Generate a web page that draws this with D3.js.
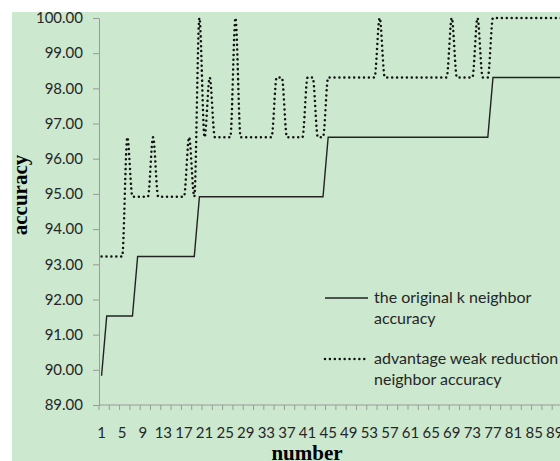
<!DOCTYPE html>
<html><head><meta charset="utf-8">
<script src="https://cdn.jsdelivr.net/npm/d3@7"></script>
<style>
html,body{margin:0;padding:0;background:#fff;}
svg{display:block;}
</style></head>
<body>
<script>
// ---- data ----
const categories = d3.range(1, 93); // 1..92 (visible part)
const originalAcc = [
  89.83,
  91.53,91.53,91.53,91.53,91.53,91.53,
  93.22,93.22,93.22,93.22,93.22,93.22,93.22,93.22,93.22,93.22,93.22,93.22,
  94.92,94.92,94.92,94.92,94.92,94.92,94.92,94.92,94.92,94.92,94.92,94.92,94.92,94.92,94.92,94.92,94.92,94.92,94.92,94.92,94.92,94.92,94.92,94.92,94.92,
  96.61,96.61,96.61,96.61,96.61,96.61,96.61,96.61,96.61,96.61,96.61,96.61,96.61,96.61,96.61,96.61,96.61,96.61,96.61,96.61,96.61,96.61,96.61,96.61,96.61,96.61,96.61,96.61,96.61,96.61,96.61,96.61,
  98.31,98.31,98.31,98.31,98.31,98.31,98.31,98.31,98.31,98.31,98.31,98.31,98.31,98.31,98.31,98.31
];
const advantageAcc = [
  93.22,93.22,93.22,93.22,93.22,
  96.61,
  94.92,94.92,94.92,94.92,
  96.61,
  94.92,94.92,94.92,94.92,94.92,94.92,
  96.61,
  94.92,
  100.00,
  96.61,
  98.31,
  96.61,96.61,96.61,96.61,
  100.00,
  96.61,96.61,96.61,96.61,96.61,96.61,96.61,
  98.31,98.31,
  96.61,96.61,96.61,96.61,
  98.31,98.31,
  96.61,96.61,
  98.31,98.31,98.31,98.31,98.31,98.31,98.31,98.31,98.31,98.31,
  100.00,
  98.31,98.31,98.31,98.31,98.31,98.31,98.31,98.31,98.31,98.31,98.31,98.31,98.31,
  100.00,
  98.31,98.31,98.31,98.31,
  100.00,
  98.31,98.31,
  100.00,100.00,100.00,100.00,100.00,100.00,100.00,100.00,100.00,100.00,100.00,100.00,100.00,100.00,100.00,100.00
];
const yTicks = [89,90,91,92,93,94,95,96,97,98,99,100];
const xLabelCats = d3.range(1, 90, 4);
const legendLines = [["the original k neighbor", "accuracy"], ["advantage weak reduction", "neighbor accuracy"]];
const axisTitles = { x: "number", y: "accuracy" };

// ---- layout ----
const W = 560, H = 461;
const nCats = 100;
const plotLeft = 99, catW = 5.15;
const plotTop = 18, plotBottom = 405;

const svg = d3.select("body").append("svg").attr("width", W).attr("height", H);
svg.append("rect").attr("x", 12).attr("y", 12).attr("width", W - 12).attr("height", H - 12).attr("fill", "#cce8cf");

const x = d3.scaleBand().domain(d3.range(1, nCats + 1)).range([plotLeft, plotLeft + nCats * catW]).padding(0);
const xc = c => x(c) + x.bandwidth() / 2;
const y = d3.scaleLinear().domain([89, 100]).range([plotBottom, plotTop]);

const font = "Lato, 'Open Sans', sans-serif";
const fs = "15px";
const axisColor = "#9a9a9a";
const textColor = "#262626";

// y axis
const yAxis = d3.axisLeft(y).tickValues(yTicks).tickSize(6).tickSizeOuter(0).tickPadding(10)
  .tickFormat(d3.format(".2f"));
const gy = svg.append("g").attr("transform", `translate(${plotLeft},0)`).call(yAxis);
gy.select(".domain").attr("stroke", axisColor).attr("stroke-width", 1);
gy.selectAll(".tick line").attr("stroke", axisColor);
gy.selectAll(".tick text").attr("fill", textColor).style("font-family", font).style("font-size", fs);

// x axis
const gx = svg.append("g");
gx.append("line").attr("x1", plotLeft).attr("x2", plotLeft + nCats * catW)
  .attr("y1", plotBottom).attr("y2", plotBottom).attr("stroke", axisColor);
const tickCats = d3.range(1, nCats + 1, 2);
gx.selectAll("line.t").data(tickCats).join("line").attr("class", "t")
  .attr("x1", c => x(c)).attr("x2", c => x(c))
  .attr("y1", plotBottom).attr("y2", plotBottom + 5).attr("stroke", axisColor);
gx.selectAll("text").data(xLabelCats).join("text")
  .attr("x", c => xc(c)).attr("y", 438).attr("text-anchor", "middle")
  .attr("fill", textColor).style("font-family", font).style("font-size", fs)
  .text(c => c);

// axis titles
svg.append("text").attr("transform", "translate(27,195) rotate(-90)").attr("text-anchor", "middle")
  .style("font-family", "'Liberation Serif','Times New Roman',serif").style("font-weight", "bold").style("font-size", "21px")
  .attr("fill", "#000").text(axisTitles.y);
svg.append("text").attr("x", 307).attr("y", 460).attr("text-anchor", "middle")
  .style("font-family", "'Liberation Serif','Times New Roman',serif").style("font-weight", "bold").style("font-size", "21px")
  .attr("fill", "#000").text(axisTitles.x);

// lines
const lineStraight = d3.line().x((d, i) => xc(categories[i])).y(d => y(d));
const lineSmooth = d3.line().x((d, i) => xc(categories[i])).y(d => y(d)).curve(d3.curveMonotoneX);

svg.append("path").datum(originalAcc).attr("d", lineStraight)
  .attr("fill", "none").attr("stroke", "#222").attr("stroke-width", 1.4);
svg.append("path").datum(advantageAcc).attr("d", lineSmooth)
  .attr("fill", "none").attr("stroke", "#111").attr("stroke-width", 2.5)
  .attr("stroke-linecap", "round").attr("stroke-dasharray", "0.01 4.9");

// legend
const lg = svg.append("g");
lg.append("line").attr("x1", 325).attr("x2", 368).attr("y1", 298).attr("y2", 298).attr("stroke", "#222").attr("stroke-width", 1.4);
lg.append("line").attr("x1", 325).attr("x2", 368).attr("y1", 359).attr("y2", 359).attr("stroke", "#111").attr("stroke-width", 2.5)
  .attr("stroke-linecap", "round").attr("stroke-dasharray", "0.01 4.9");
[303, 364].forEach((by, i) => {
  const t = lg.append("text").attr("x", 374).attr("y", by).attr("fill", textColor)
    .style("font-family", font).style("font-size", "16px");
  t.append("tspan").attr("x", 374).attr("dy", 0).text(legendLines[i][0]);
  t.append("tspan").attr("x", 374).attr("dy", 21).text(legendLines[i][1]);
});
</script>
</body></html>
